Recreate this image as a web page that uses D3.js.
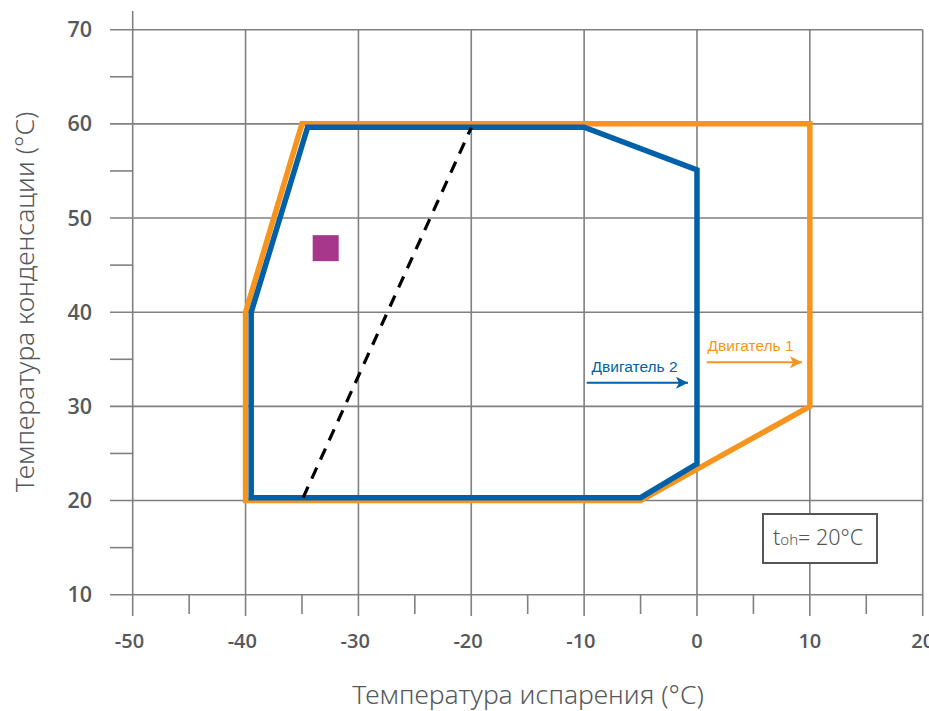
<!DOCTYPE html>
<html><head><meta charset="utf-8">
<script src="https://cdn.jsdelivr.net/npm/d3@7"></script>
<style>html,body{margin:0;padding:0;background:#fff;} svg{display:block;}</style>
</head><body>
<svg id="chart" width="929" height="711"></svg>
<script>
// ---- data ----
const xTicks = [-50, -40, -30, -20, -10, 0, 10, 20];
const yTicks = [10, 20, 30, 40, 50, 60, 70];
const xMinor = [-45, -35, -25, -15, -5, 5, 15];
const yMinor = [15, 25, 35, 45, 55, 65];
const engine1X = [-35, 10, 10, -5, -40, -40];
const engine1Y = [60, 60, 30, 20, 20, 40];
const engine2X = [-34.5, -10, 0, 0, -5, -39.5, -39.5];
const engine2Y = [59.65, 59.65, 55.1, 23.9, 20.3, 20.3, 40];
const dashedX = [-34.9, -20];
const dashedY = [20.3, 59.6];
const markerX = [-32.9];
const markerY = [46.8];
const engineLabels = ["Двигатель 1", "Двигатель 2"];
const xTitle = "Температура испарения (°C)";
const yTitle = "Температура конденсации (°C)";

const svg = d3.select("#chart");
const x = d3.scaleLinear().domain([-50, 20]).range([132.7, 922.7]);
const y = d3.scaleLinear().domain([10, 70]).range([594.7, 29.7]);
const gridC = "#808080", textC = "#55595c";

// vertical grid (extend below axis as ticks)
svg.append("g").selectAll("line").data(xTicks).join("line")
  .attr("x1", d => x(d)).attr("x2", d => x(d))
  .attr("y1", d => d === -50 ? 11 : y(70)).attr("y2", 616)
  .attr("stroke", gridC).attr("stroke-width", 1.6);
svg.append("g").selectAll("line").data(xMinor).join("line")
  .attr("x1", d => x(d)).attr("x2", d => x(d))
  .attr("y1", y(10)).attr("y2", 614)
  .attr("stroke", gridC).attr("stroke-width", 1.6);
// horizontal grid
svg.append("g").selectAll("line").data(yTicks).join("line")
  .attr("x1", 110).attr("x2", x(20))
  .attr("y1", d => y(d)).attr("y2", d => y(d))
  .attr("stroke", gridC).attr("stroke-width", 1.6);
svg.append("g").selectAll("line").data(yMinor).join("line")
  .attr("x1", 110).attr("x2", x(-50))
  .attr("y1", d => y(d)).attr("y2", d => y(d))
  .attr("stroke", gridC).attr("stroke-width", 1.6);

// tick labels (digits centred on tick, minus sign hanging left)
const xl = svg.append("g").selectAll("text").data(xTicks).join("text")
  .attr("y", 648)
  .attr("text-anchor", "end")
  .attr("font-family", "'Open Sans', sans-serif").attr("font-weight", 600)
  .attr("font-size", 20).attr("fill", textC)
  .text(d => d);
xl.each(function(d) {
  const tmp = svg.append("text").attr("font-family", "'Open Sans', sans-serif")
    .attr("font-weight", 600).attr("font-size", 20).text(Math.abs(d));
  const w = tmp.node().getComputedTextLength();
  tmp.remove();
  d3.select(this).attr("x", x(d) + w / 2);
});
svg.append("g").selectAll("text").data(yTicks).join("text")
  .attr("x", 92).attr("y", d => y(d) + 7.5)
  .attr("text-anchor", "end")
  .attr("font-family", "'Open Sans', sans-serif").attr("font-weight", 600)
  .attr("font-size", 21.5).attr("fill", textC)
  .text(d => d);

// axis titles
svg.append("text").attr("x", 528).attr("y", 703.5)
  .attr("text-anchor", "middle")
  .attr("font-family", "'Noto Sans', sans-serif").attr("font-weight", 300).attr("font-size", 26.5)
  .attr("fill", textC).text(xTitle);
svg.append("text").attr("transform", "translate(34,302) rotate(-90)")
  .attr("text-anchor", "middle")
  .attr("font-family", "'Noto Sans', sans-serif").attr("font-weight", 300).attr("font-size", 26.5)
  .attr("fill", textC).text(yTitle);

// polygons
const line = d3.line().x(d => x(d[0])).y(d => y(d[1]));
const p1 = engine1X.map((v, i) => [v, engine1Y[i]]);
const p2 = engine2X.map((v, i) => [v, engine2Y[i]]);
svg.append("path").attr("d", line(p1) + "Z")
  .attr("fill", "none").attr("stroke", "#F7941D").attr("stroke-width", 5.5)
  .attr("stroke-linejoin", "miter");
svg.append("path").attr("d", line(p2) + "Z")
  .attr("fill", "none").attr("stroke", "#0061A8").attr("stroke-width", 5.5)
  .attr("stroke-linejoin", "miter");

// dashed line
svg.append("path").attr("d", line(dashedX.map((v, i) => [v, dashedY[i]])))
  .attr("fill", "none").attr("stroke", "#000").attr("stroke-width", 3.2)
  .attr("stroke-dasharray", "12,9");

// marker square
svg.append("g").selectAll("rect").data(markerX).join("rect")
  .attr("x", (d) => x(d) - 13).attr("y", (d, i) => y(markerY[i]) - 13)
  .attr("width", 26).attr("height", 26).attr("fill", "#A6378B");

// arrows
const defs = svg.append("defs");
[["a1", "#F7941D"], ["a2", "#0061A8"]].forEach(([id, c]) => {
  defs.append("marker").attr("id", id).attr("viewBox", "0 0 10 10")
    .attr("refX", 10).attr("refY", 5).attr("markerWidth", 24).attr("markerHeight", 12)
    .attr("markerUnits", "userSpaceOnUse").attr("orient", "auto")
    .append("path").attr("d", "M0,0 L10,5 L0,10 L2.5,5 Z").attr("fill", c);
});
svg.append("line").attr("x1", 706.7).attr("x2", 802).attr("y1", 362.3).attr("y2", 362.3)
  .attr("stroke", "#F7941D").attr("stroke-width", 2).attr("marker-end", "url(#a1)");
svg.append("text").attr("x", 707.5).attr("y", 350.7)
  .attr("font-family", "'Liberation Sans', Arial, sans-serif").attr("font-size", 15.5)
  .attr("fill", "#F7941D").text(engineLabels[0]);
svg.append("line").attr("x1", 586.7).attr("x2", 688).attr("y1", 382.7).attr("y2", 382.7)
  .attr("stroke", "#0061A8").attr("stroke-width", 2).attr("marker-end", "url(#a2)");
svg.append("text").attr("x", 591.5).attr("y", 371.7)
  .attr("font-family", "'Liberation Sans', Arial, sans-serif").attr("font-size", 15.5)
  .attr("fill", "#0061A8").text(engineLabels[1]);

// info box
svg.append("rect").attr("x", 763).attr("y", 514).attr("width", 114).attr("height", 49)
  .attr("fill", "#fff").attr("stroke", "#555").attr("stroke-width", 2);
const t = svg.append("text").attr("x", 773).attr("y", 545)
  .attr("font-family", "'Noto Sans', sans-serif").attr("font-weight", 300)
  .attr("font-size", 21.5).attr("fill", "#555");
t.append("tspan").text("t");
t.append("tspan").attr("font-size", 15).text("oh");
t.append("tspan").text("= 20°C");
</script>
</body></html>
